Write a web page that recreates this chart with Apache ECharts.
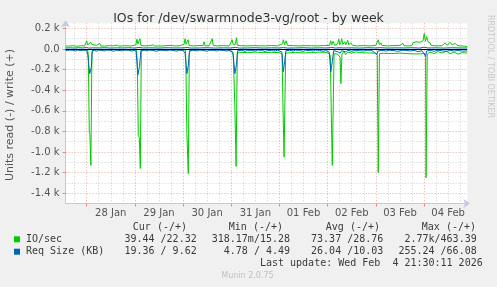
<!DOCTYPE html>
<html><head><meta charset="utf-8">
<script src="https://cdn.jsdelivr.net/npm/echarts@6/dist/echarts.min.js"></script>
<style>html,body{margin:0;padding:0;background:#f0f0f0}#c{width:497px;height:287px}</style>
</head><body><div id="c"></div><script>
// Time in hours from 28 Jan 00:00
const dayLabels = ['28 Jan','29 Jan','30 Jan','31 Jan','01 Feb','02 Feb','03 Feb','04 Feb'];
const xRange = [-10.5, 189.5];
const yTickValues = [-1400,-1200,-1000,-800,-600,-400,-200,0,200];
const yRange = [-1500, 250];

// IO/sec read (shown negative)
const ioRead = [[-10.5,6],[-6,5],[-2,6],[0.5,8],[0.8,60],[1.3,810],[1.6,830],[2.1,1130],[2.6,40],[3,8],[8,6],[14,5],[20,7],[24.8,8],[25.2,120],[25.7,840],[26.2,860],[26.7,1160],[27.2,30],[28,8],[34,6],[40,5],[46,7],[49.2,10],[49.4,150],[49.9,820],[50.2,830],[50.6,1210],[51.1,40],[52,8],[58,6],[64,5],[70,8],[72.5,30],[73,60],[73.8,560],[74.4,1140],[75,40],[76,32],[80,35],[84,30],[88,36],[92,33],[96,34],[97.3,50],[97.8,600],[98.3,1050],[99.1,40],[100,35],[104,32],[108,38],[112,35],[116,30],[120,34],[121.3,60],[121.8,600],[122.3,1130],[123.2,45],[124,30],[125,50],[126.2,80],[126.6,335],[127.1,50],[128,25],[129,55],[130,30],[132,40],[134,28],[136,35],[140,38],[144,40],[144.7,60],[145.2,1200],[145.8,45],[148,42],[152,44],[156,40],[160,45],[164,48],[168.5,45],[168.8,80],[169,1250],[169.6,50],[171,30],[173,45],[175,25],[177,40],[179,20],[181,45],[183,30],[185,50],[187,35],[189.5,39.44]];
// IO/sec write (positive)
const ioWrite = [[-10.5,30],[-9,28],[-7,32],[-5,27],[-3,31],[-1,30],[-0.5,45],[0,80],[0.5,40],[1,35],[2,65],[2.5,45],[3,30],[5,35],[6.5,55],[7,30],[9,28],[11,33],[13,30],[15,38],[16,28],[18,30],[20,32],[22,29],[24.5,40],[25,95],[25.5,50],[26,45],[26.5,100],[27,35],[29,30],[31,32],[33,40],[34,28],[36,30],[38,29],[41,35],[44,30],[46,31],[48.5,45],[49,100],[49.5,45],[50,40],[50.5,90],[51,35],[53,30],[55,32],[58,35],[58.5,70],[59,30],[61,32],[62.5,100],[63,35],[65,30],[68,33],[71,30],[72.4,90],[73,40],[74,45],[74.6,110],[75,35],[77,32],[80,30],[83,33],[86,31],[89,30],[92,34],[95,30],[97.5,50],[98,90],[98.5,40],[99.3,80],[100,35],[103,32],[106,30],[109,33],[112,31],[115,30],[118,34],[121,35],[121.5,80],[122,40],[122.7,75],[123.5,35],[125,50],[125.5,95],[126,40],[126.5,60],[127,100],[127.5,45],[128.5,70],[129,40],[130,85],[130.5,40],[131.5,60],[132.5,35],[135,30],[138,33],[141,30],[144,35],[144.7,50],[145.2,90],[145.8,40],[146.5,60],[147,35],[150,30],[153,33],[156,35],[157.5,55],[158,32],[160,30],[162,33],[162.5,60],[164,70],[166,65],[167.5,80],[168.1,150],[168.7,75],[169.3,120],[170,70],[171,60],[171.5,35],[174,30],[177,32],[178.5,60],[179.5,35],[181,65],[182,40],[183.5,55],[184.5,35],[186,30],[188,28],[189.5,22.32]];
// Req Size (KB) read (shown negative)
const reqRead = [[-10.5,12],[-9.5,16],[-8.5,10],[-7,13],[-5.5,20],[-4.5,11],[-3,14],[-1.5,12],[0,13],[0.6,60],[1.5,240],[2.3,180],[2.8,18],[4,12],[5,22],[6,10],[7.5,14],[9,19],[10,10],[12,13],[13.5,22],[14.5,12],[16,14],[18,18],[19,10],[21,13],[22.5,20],[23.5,12],[24.6,20],[25.5,250],[26.3,170],[27,15],[29,12],[30,19],[31,10],[33,14],[35,22],[36,12],[38,13],[40,18],[41,10],[43,14],[45,21],[46,11],[48,13],[49,40],[49.9,240],[50.6,160],[51.2,16],[53,12],[55,19],[56,10],[58,14],[60,22],[61,12],[63,13],[65,19],[66,10],[68,14],[70,20],[71,12],[72.8,30],[73.8,240],[74.6,150],[75.2,16],[77,13],[79,22],[80,12],[82,14],[84,19],[85,10],[87,13],[89,24],[90,12],[92,16],[94,19],[95,11],[97.2,30],[97.9,220],[98.6,120],[99.2,16],[101,13],[103,20],[104,10],[106,14],[108,23],[109,12],[111,15],[113,19],[114,10],[116,14],[118,22],[119,12],[120.8,30],[121.6,220],[122.4,110],[123,16],[125,26],[126.3,40],[127,16],[129,28],[130,13],[132,22],[134,12],[136,16],[138,19],[140,12],[142,14],[144.5,55],[145,20],[147,13],[149,20],[151,12],[153,16],[155,22],[157,12],[159,14],[161,19],[163,13],[165,26],[167,16],[168.8,70],[169.3,20],[171,13],[173,22],[175,12],[177,18],[179,23],[181,13],[183,19],[185,14],[187,20],[189.5,19.36]];
// Req Size (KB) write (positive)
const reqWrite = [[-10.5,10],[-8,11],[-6,9],[-4,12],[-2,10],[0,14],[1,9],[3,11],[6,10],[9,12],[12,9],[15,11],[18,10],[21,12],[24,9],[26,15],[28,10],[32,11],[36,9],[40,12],[44,10],[48,11],[50,14],[52,9],[56,10],[60,12],[64,9],[68,11],[72,10],[74,16],[76,9],[80,10],[84,12],[88,9],[92,11],[96,10],[98,14],[100,9],[104,10],[108,12],[112,9],[116,11],[120,10],[122,15],[124,9],[126,12],[128,10],[132,11],[136,9],[140,12],[144,10],[146,13],[150,9],[154,11],[158,10],[162,12],[166,9],[168,18],[170,10],[174,11],[178,9],[182,12],[186,10],[189.5,9.62]];

const legendHead = ['Cur (-/+)','Min (-/+)','Avg (-/+)','Max (-/+)'];
const legendRows = [
  {name:'IO/sec', color:'#00cc00', vals:['39.44 /22.32','318.17m/15.28','73.37 /28.76','2.77k/463.39']},
  {name:'Req Size (KB)', color:'#0066b3', vals:['19.36 / 9.62','4.78 / 4.49','26.04 /10.03','255.24 /66.08']}
];

const dayTicks = dayLabels.map((d,i)=>i*24);
const noonTicks = dayLabels.map((d,i)=>i*24+12);
const sixHourTicks = [];
for (let h = -6; h < xRange[1]; h += 6) { if (h % 24 !== 0) sixHourTicks.push(h); }
const yMinorTicks = [];
for (let v = -1300; v < yRange[1]; v += 200) yMinorTicks.push(v);

const neg = arr => arr.map(p => [p[0], -p[1]]);
const axisCol = '#c3c9e6';
const redGrid = {color:'rgba(225,110,110,0.6)', type:[1,2], width:1};
const grayGrid = {color:'rgba(170,170,170,0.55)', type:[1,2], width:1};
const mono = '10px "DejaVu Sans Mono"';

const graphic = [
  {type:'text', x:248.5, y:18.5, style:{text:'IOs for /dev/swarmnode3-vg/root - by week', font:'12.5px "DejaVu Sans"', fill:'#333', align:'center', verticalAlign:'middle'}},
  {type:'text', x:10, y:115, rotation:Math.PI/2, style:{text:'Units read (-) / write (+)', font:'11px "DejaVu Sans"', fill:'#555', align:'center', verticalAlign:'middle'}},
  {type:'text', x:490, y:15, rotation:-Math.PI/2, style:{text:'RRDTOOL / TOBI OETIKER', font:'8px "DejaVu Sans"', fill:'#c8c8c8', align:'left', verticalAlign:'middle'}},
  {type:'text', x:482.7, y:263.3, style:{text:'Last update: Wed Feb  4 21:30:11 2026', font:mono, fill:'#3a3a3a', align:'right', verticalAlign:'middle'}},
  {type:'text', x:247.5, y:275.7, style:{text:'Munin 2.0.75', font:'8px "DejaVu Sans"', fill:'#c0c0c0', align:'center', verticalAlign:'middle'}}
];
const headRight = [187, 283, 380, 476];
const valRight = [196.7, 290, 383.3, 476.7];
legendHead.forEach((t,i)=>graphic.push({type:'text', x:headRight[i], y:227.7, style:{text:t, font:mono, fill:'#3a3a3a', align:'right', verticalAlign:'middle'}}));
legendRows.forEach((r,k)=>{
  const y = 239.3 + k*12.4;
  graphic.push({type:'rect', shape:{x:14, y:y-3, width:6, height:6}, style:{fill:r.color}});
  graphic.push({type:'text', x:26, y:y, style:{text:r.name, font:mono, fill:'#3a3a3a', align:'left', verticalAlign:'middle'}});
  r.vals.forEach((v,i)=>graphic.push({type:'text', x:valRight[i], y:y, style:{text:v, font:mono, fill:'#3a3a3a', align:'right', verticalAlign:'middle'}}));
});

const lineSeries = (data, color) => ({type:'line', data, showSymbol:false, symbol:'none', lineStyle:{width:1, color}, itemStyle:{color}, animation:false, silent:true});

const chart = echarts.init(document.getElementById('c'), null, {renderer:'canvas'});
chart.setOption({
  backgroundColor:'#f0f0f0',
  animation:false,
  grid:{left:65.6, right:29.8, top:23.25, bottom:83.5, show:true, backgroundColor:'#ffffff', borderWidth:0},
  xAxis:[
    {type:'value', min:xRange[0], max:xRange[1], position:'bottom',
     axisLine:{show:true, onZero:false, lineStyle:{color:axisCol}, symbol:['none','arrow'], symbolSize:[7,7], symbolOffset:[0,3]},
     axisTick:{show:true, customValues:dayTicks, length:3, lineStyle:{color:'rgba(225,110,110,0.8)'}},
     axisLabel:{customValues:noonTicks, formatter:v=>dayLabels[Math.round((v-12)/24)]||'', color:'#555', fontSize:10, fontFamily:'DejaVu Sans', margin:5},
     splitLine:{show:true, lineStyle:redGrid}},
    {type:'value', min:xRange[0], max:xRange[1], position:'top',
     axisLine:{show:false}, axisTick:{show:false, customValues:sixHourTicks}, axisLabel:{show:false},
     splitLine:{show:true, lineStyle:grayGrid}}
  ],
  yAxis:[
    {type:'value', min:yRange[0], max:yRange[1], position:'left',
     axisLine:{show:true, onZero:false, lineStyle:{color:axisCol}, symbol:['none','arrow'], symbolSize:[7,7], symbolOffset:[0,3]},
     axisTick:{show:true, customValues:yTickValues, length:3, lineStyle:{color:'rgba(225,110,110,0.8)'}},
     axisLabel:{customValues:yTickValues, formatter:v=> v===0 ? '0.0' : (v/1000).toFixed(1)+' k', color:'#555', fontSize:10, fontFamily:'DejaVu Sans', margin:6},
     splitLine:{show:true, lineStyle:redGrid}},
    {type:'value', min:yRange[0], max:yRange[1], position:'right',
     axisLine:{show:false}, axisTick:{show:false, customValues:yMinorTicks}, axisLabel:{show:false},
     splitLine:{show:true, lineStyle:grayGrid}}
  ],
  graphic: graphic,
  series:[
    lineSeries(neg(ioRead), '#00cc00'),
    lineSeries(ioWrite, '#00cc00'),
    lineSeries(neg(reqRead), '#0066b3'),
    Object.assign(lineSeries(reqWrite, '#0066b3'), {markLine:{silent:true, symbol:'none', label:{show:false}, lineStyle:{color:'#000', width:1, type:'solid'}, data:[{yAxis:0}]}})
  ]
});
</script></body></html>
